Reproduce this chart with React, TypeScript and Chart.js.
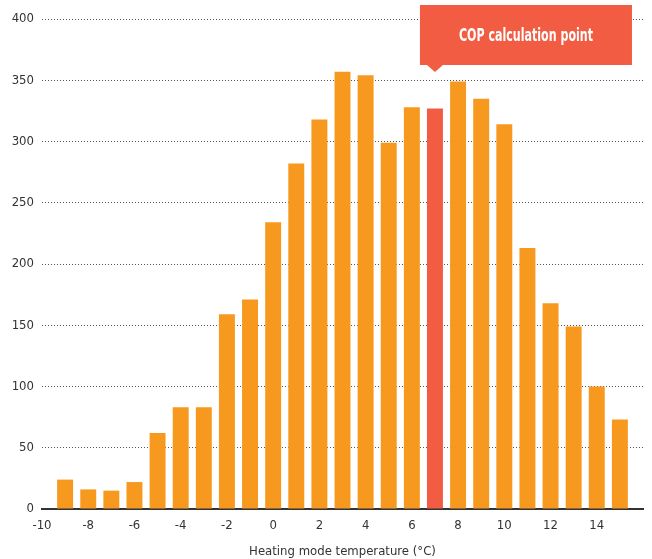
import React, { useEffect, useRef } from "react";
import { Chart, registerables } from "chart.js";

Chart.register(...registerables);

const temperatures = [-9, -8, -7, -6, -5, -4, -3, -2, -1, 0, 1, 2, 3, 4, 5, 6, 7, 8, 9, 10, 11, 12, 13, 14, 15];
const hours = [24, 16, 15, 22, 62, 83, 83, 159, 171, 234, 282, 318, 357, 354, 299, 328, 327, 349, 335, 314, 213, 168, 149, 100, 73];
const calcPointTemp = 7;
const calloutLabel = "COP calculation point";
const xTitle = "Heating mode temperature (°C)";
const xMin = -10;
const xMax = 16;
const xStep = 2;
const yMin = 0;
const yMax = 400;
const yStep = 50;

const ORANGE = "#f7991f";
const RED = "#f15c43";
const TEXT = "#333333";
const FONT = "'DejaVu Sans Condensed', 'Liberation Sans Narrow', sans-serif";

const calloutPlugin = {
  id: "callout",
  afterDraw(chart: any) {
    const { ctx, chartArea } = chart;
    const x = chart.scales.x;
    const px = x.getPixelForValue(calcPointTemp);
    const left = px - 15;
    const top = chartArea.top - 14;
    const w = 212;
    const h = 60;
    ctx.save();
    ctx.fillStyle = RED;
    ctx.fillRect(left, top, w, h);
    ctx.beginPath();
    ctx.moveTo(px - 8, top + h);
    ctx.lineTo(px, top + h + 7);
    ctx.lineTo(px + 8, top + h);
    ctx.closePath();
    ctx.fill();
    ctx.fillStyle = "#ffffff";
    ctx.font = `bold 18px ${FONT}`;
    ctx.textAlign = "center";
    ctx.textBaseline = "middle";
    const tw = ctx.measureText(calloutLabel).width;
    const target = 134;
    const sx = tw > target ? target / tw : 1;
    ctx.translate(left + w / 2, top + h / 2 + 1);
    ctx.scale(sx, 1);
    ctx.fillText(calloutLabel, 0, 0);
    ctx.restore();
  },
};

export default function App() {
  const ref = useRef<HTMLCanvasElement | null>(null);
  useEffect(() => {
    document.body.style.margin = "0";
    const canvas = ref.current;
    if (!canvas) return;
    const chart = new Chart(canvas, {
      type: "bar",
      data: {
        datasets: [
          {
            data: temperatures.map((t, i) => ({ x: t, y: hours[i] })),
            backgroundColor: temperatures.map((t) => (t === calcPointTemp ? RED : ORANGE)),
            barPercentage: 1,
            categoryPercentage: 0.69,
            borderWidth: 0,
          },
        ],
      },
      options: {
        animation: false,
        responsive: false,
        devicePixelRatio: 1,
        layout: { padding: { top: 19, right: 8, left: 0, bottom: 0 } },
        plugins: { legend: { display: false }, tooltip: { enabled: false } },
        scales: {
          x: {
            type: "linear",
            min: xMin,
            max: xMax,
            offset: false,
            afterFit: (s: any) => {
              s.height = 50;
            },
            ticks: {
              stepSize: xStep,
              autoSkip: false,
              maxRotation: 0,
              padding: 9,
              color: TEXT,
              font: { family: FONT, size: 13 },
              callback: (v: any) => (Number(v) >= xMax ? "" : String(v)),
            },
            grid: { display: false, drawTicks: false },
            border: { display: true, color: "#333333", width: 2 },
            title: {
              display: true,
              text: xTitle,
              color: TEXT,
              font: { family: FONT, size: 13 },
              padding: { top: 8, bottom: 0 },
            },
          },
          y: {
            min: yMin,
            max: yMax,
            afterFit: (s: any) => {
              s.width = 42;
            },
            ticks: {
              stepSize: yStep,
              padding: 8,
              color: TEXT,
              font: { family: FONT, size: 13 },
            },
            grid: { color: "#555555", lineWidth: 1, drawTicks: false },
            border: { display: false, dash: [1, 2] },
          },
        },
      },
      plugins: [calloutPlugin],
    });
    return () => chart.destroy();
  }, []);
  return (
    <div style={{ width: 652, height: 559 }}>
      <canvas ref={ref} width={652} height={559} style={{ width: 652, height: 559, display: "block" }} />
    </div>
  );
}
